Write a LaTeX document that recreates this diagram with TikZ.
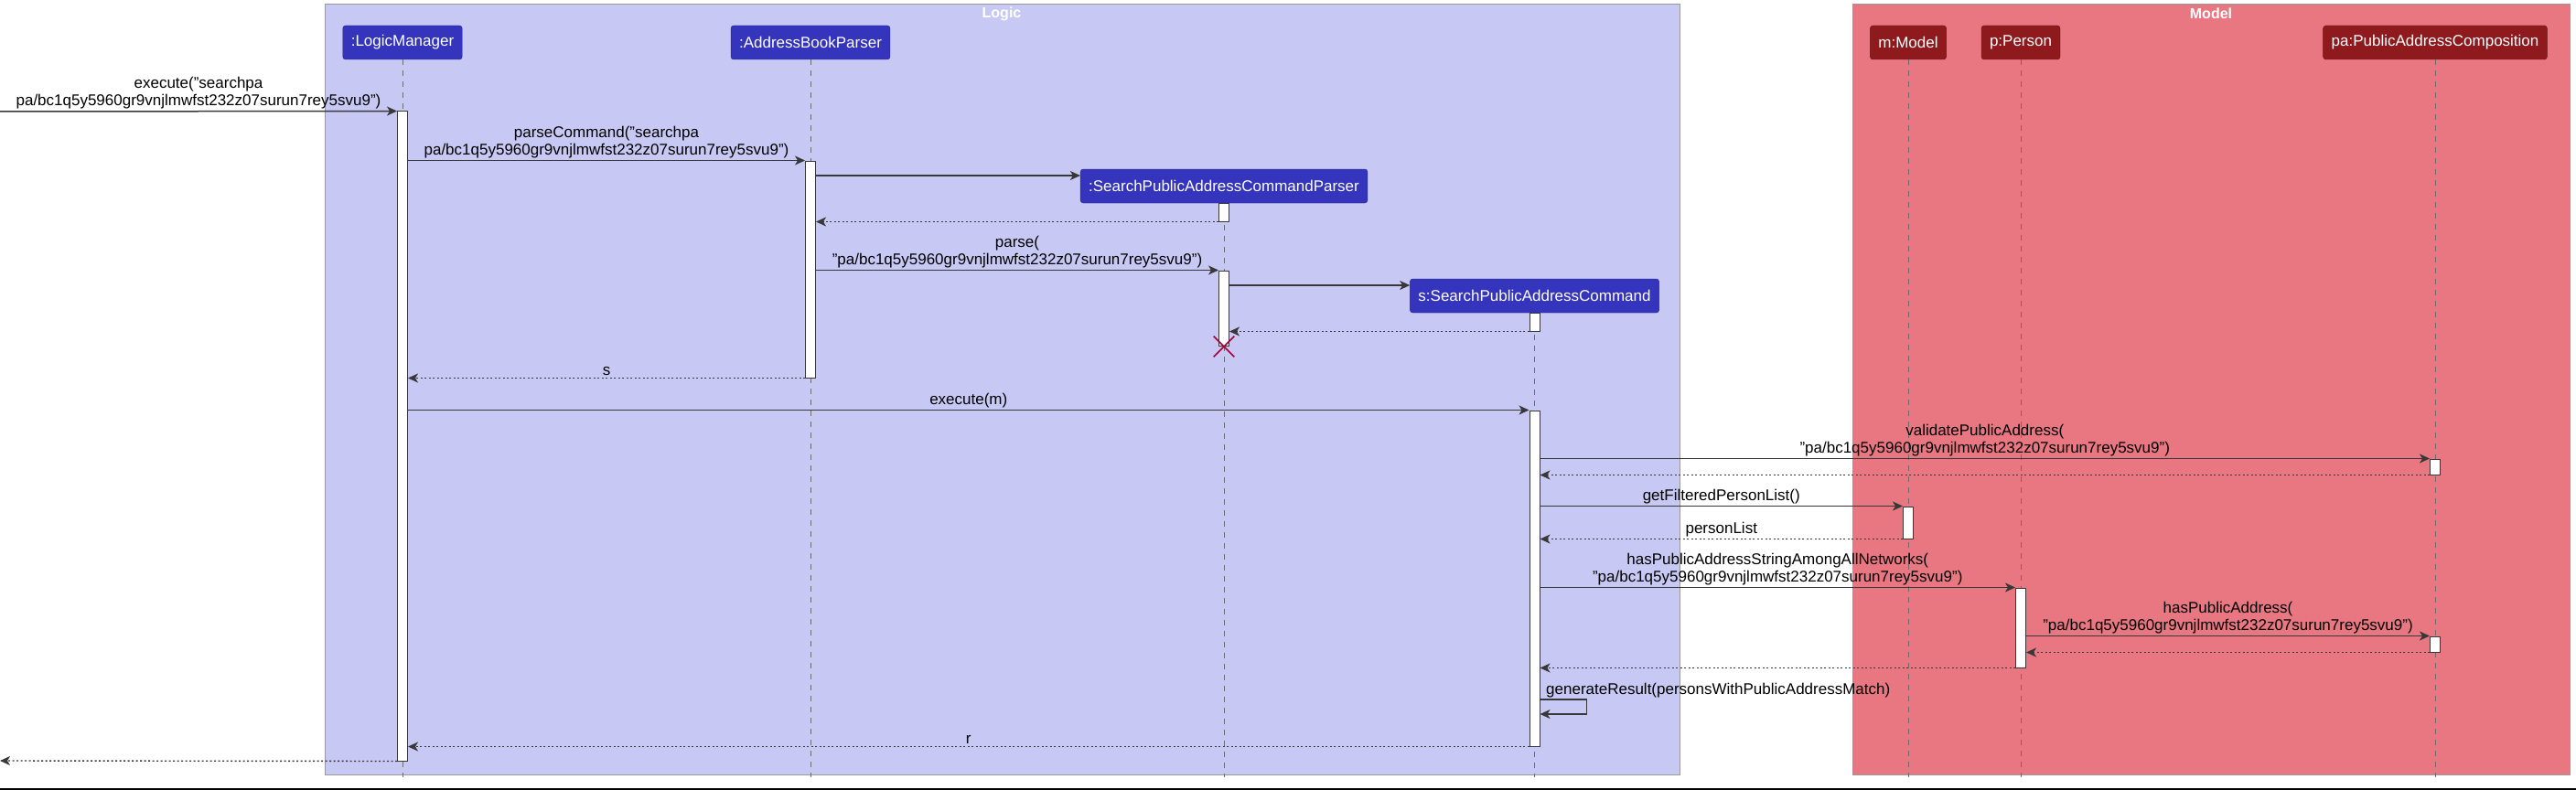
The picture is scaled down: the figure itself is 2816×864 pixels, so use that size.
\documentclass[tikz,border=0pt]{standalone}
\usepackage{fontspec}
\setmainfont{Liberation Sans}
\usepackage{tikz}
\usetikzlibrary{arrows.meta}
\usetikzlibrary{shapes.misc}
\definecolor{logicbg}{HTML}{C8C8F4}
\definecolor{logicpart}{HTML}{3434BC}
\definecolor{modelbg}{HTML}{E87782}
\definecolor{modelpart}{HTML}{8F1A1E}
\definecolor{msgline}{HTML}{383838}
\definecolor{killred}{HTML}{A80036}
\newcommand{\paddr}{"pa/bc1q5y5960gr9vnjlmwfst232z07surun7rey5svu9")}
\tikzset{
  myframe/.style={
    draw=gray!80,
    line width=1pt,
  },
  mytitle/.style={
    text=white,
    font=\fontsize{16}{19}\selectfont\bfseries,
    inner sep=0pt,
  },
  mylogic/.style={
    draw=logicpart!70!black,
    fill=logicpart,
    text=white,
    rounded corners=3pt,
    minimum height=37pt,
    inner xsep=9pt,
    font=\fontsize{17}{19}\selectfont
  },
  mymodel/.style={
    mylogic,
    draw=modelpart!70!black,
    fill=modelpart,
  },
  mylifeline/.style={
    draw=gray!85!black,
    line width=0.9pt,
    dash pattern=on 6pt off 6pt,
  },
  mybar/.style={
    draw=msgline,
    fill=white,
    line width=1pt,
    minimum width=11pt,
    inner sep=0pt,
  },
  mymsg/.style={
    draw=msgline,
    line width=1.5pt,
    -{Stealth[length=11pt,width=10pt,inset=3pt]},
  },
  myreturn/.style={
    draw=msgline,
    line width=1.4pt,
    dash pattern=on 2pt off 2.5pt,
    -{Stealth[length=11pt,width=10pt,inset=3pt]},
  },
  mylabel/.style={
    anchor=south,
    align=center,
    inner sep=2pt,
    font=\fontsize{17}{19}\selectfont
  },
  mykill/.style={
    cross out,
    draw=killred,
    line width=1.6pt,
    minimum size=21pt,
    inner sep=0pt,
  },
}

\begin{document}
\begin{tikzpicture}[x=1pt,y=-1pt]
    \useasboundingbox (0,0) rectangle (2816,864);

    % boxes
    \draw[myframe, fill=logicbg] (355.5,5) rectangle (1836,847);
    \draw[myframe, fill=modelbg] (2025.5,5) rectangle (2809,847);
    \node[mytitle] (logicT) at (1095,15) {Logic};
    \node[mytitle] (modelT) at (2417,15) {Model};

    % participants
    \node[mylogic] (lm) at (440,46.5) {:LogicManager};
    \node[mylogic] (abp) at (886,46.5) {:AddressBookParser};
    \node[mylogic] (parser) at (1338,203.5) {:SearchPublicAddressCommandParser};
    \node[mylogic] (cmd) at (1677.5,323.5) {s:SearchPublicAddressCommand};
    \node[mymodel] (model) at (2086,46.5) {m:Model};
    \node[mymodel] (person) at (2209,46.5) {p:Person};
    \node[mymodel] (pac) at (2662,46.5) {pa:PublicAddressComposition};

    \coordinate (bot) at (0,850);
    \foreach \who in {lm,abp,parser,cmd,model,person,pac}
      \draw[mylifeline] (\who) -- (\who |- bot);

    % activations
    \node[mybar, minimum height=710pt] (lmA) at (440,477) {};
    \node[mybar, minimum height=237pt] (abpA) at (886,294.5) {};
    \node[mybar, minimum height=20pt] (parserA) at (1338,232) {};
    \node[mybar, minimum height=82pt] (parserB) at (1338,337) {};
    \node[mybar, minimum height=20pt] (cmdA) at (1677.5,352) {};
    \node[mybar, minimum height=367pt] (cmdB) at (1677.5,632.5) {};
    \node[mybar, minimum height=17pt] (pacA) at (2662,510.5) {};
    \node[mybar, minimum height=35pt] (modelA) at (2086,571.5) {};
    \node[mybar, minimum height=87pt] (personA) at (2209,686.5) {};
    \node[mybar, minimum height=17pt] (pacB) at (2662,704.5) {};

    % messages
    \coordinate (start) at (0,122);
    \draw[mymsg] (start) -- (lmA.north west)
      node[mylabel, midway] (l1) {execute("searchpa\\pa/bc1q5y5960gr9vnjlmwfst232z07surun7rey5svu9")};
    \draw[mymsg] (lmA.east |- abpA.north) -- (abpA.north west)
      node[mylabel, midway] (l2) {parseCommand("searchpa\\pa/bc1q5y5960gr9vnjlmwfst232z07surun7rey5svu9")};
    \draw[mymsg] (abpA.east |- 0,192) -- (parser.west |- 0,192);
    \draw[myreturn] (parserA.south west) -- (abpA.east |- parserA.south);
    \draw[mymsg] (abpA.east |- parserB.north) -- (parserB.north west)
      node[mylabel, midway] (l3) {parse(\\\paddr};
    \draw[mymsg] (parserB.east |- 0,312) -- (cmd.west |- 0,312);
    \draw[myreturn] (cmdA.south west) -- (parserB.east |- cmdA.south);
    \node[mykill] (kill) at (1338,379) {};
    \draw[myreturn] (abpA.south west) -- (lmA.east |- abpA.south)
      node[mylabel, midway] (l4) {s};
    \draw[mymsg] (lmA.east |- cmdB.north) -- (cmdB.north west)
      node[mylabel, midway] (l5) {execute(m)};
    \draw[mymsg] (cmdB.east |- pacA.north) -- (pacA.north west)
      node[mylabel, midway] (l6) {validatePublicAddress(\\\paddr};
    \draw[myreturn] (pacA.south west) -- (cmdB.east |- pacA.south);
    \draw[mymsg] (cmdB.east |- modelA.north) -- (modelA.north west)
      node[mylabel, midway] (l7) {getFilteredPersonList()};
    \draw[myreturn] (modelA.south west) -- (cmdB.east |- modelA.south)
      node[mylabel, midway] (l8) {personList};
    \draw[mymsg] (cmdB.east |- personA.north) -- (personA.north west)
      node[mylabel, midway] (l9) {hasPublicAddressStringAmongAllNetworks(\\\paddr};
    \draw[mymsg] (personA.east |- pacB.north) -- (pacB.north west)
      node[mylabel, midway] (l10) {hasPublicAddress(\\\paddr};
    \draw[myreturn] (pacB.south west) -- (personA.east |- pacB.south);
    \draw[myreturn] (personA.south west) -- (cmdB.east |- personA.south);
    \draw[mymsg] (cmdB.east |- 0,765) -- ++(51,0) |- (cmdB.east |- 0,781);
    \node[mylabel, anchor=south west] (l11) at (1688,765) {generateResult(personsWithPublicAddressMatch)};
    \draw[myreturn] (cmdB.south west) -- (lmA.east |- cmdB.south)
      node[mylabel, midway] (l12) {r};
    \coordinate (end) at (0,832);
    \draw[myreturn] (lmA.south west) -- (end);

    \fill[black] (0,861.5) rectangle (2816,864);
\end{tikzpicture}
\end{document}
